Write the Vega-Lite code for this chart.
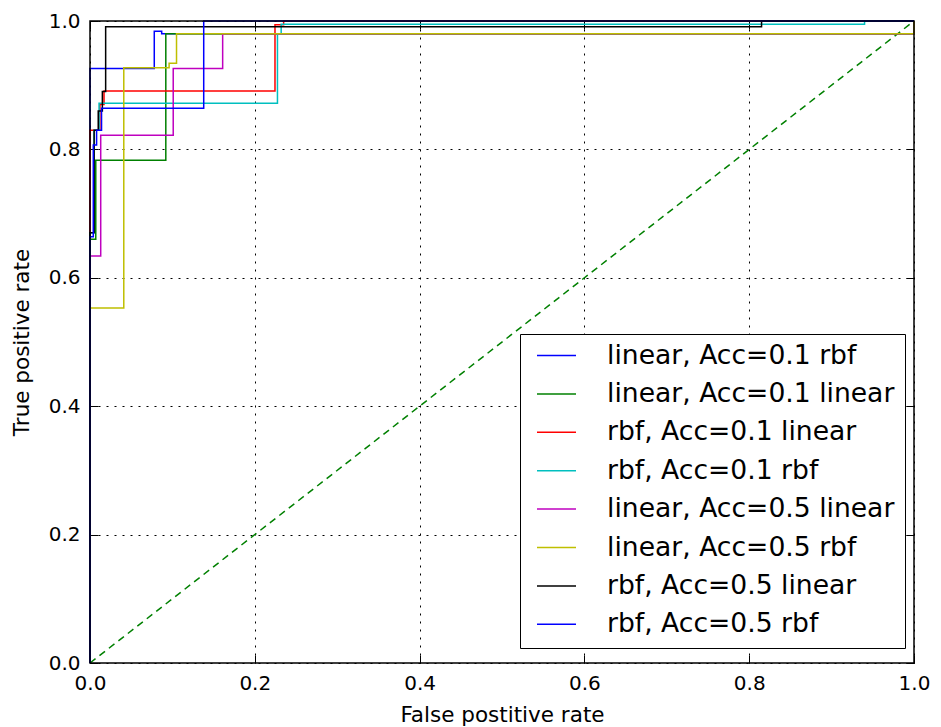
{
  "$schema": "https://vega.github.io/schema/vega-lite/v6.json",
  "width": 824,
  "height": 642,
  "autosize": {"type": "none"},
  "padding": {"left": 90, "top": 21, "right": 27, "bottom": 64},
  "background": "white",
  "config": {
    "view": {"stroke": null},
    "axis": {
      "domain": false,
      "grid": true,
      "gridColor": "black",
      "gridDash": [2, 6],
      "gridWidth": 1,
      "gridOpacity": 1,
      "tickColor": "black",
      "tickSize": -8,
      "tickWidth": 1,
      "labelFont": "DejaVu Sans",
      "labelFontSize": 20,
      "labelColor": "black",
      "labelFlush": false,
      "labelOverlap": false,
      "labelPadding": 18,
      "titleFont": "DejaVu Sans",
      "titleFontSize": 21.5,
      "titleFontWeight": "normal",
      "titleColor": "black"
    }
  },
  "datasets": {
    "diag": [{"fpr": 0, "tpr": 0}, {"fpr": 1, "tpr": 1}],
    "frame": [{"x0": 0, "x1": 1, "y0": 0, "y1": 1}],
    "roc": [
      {"s": "linear, Acc=0.1 rbf", "i": 0, "fpr": 0, "tpr": 0},
      {"s": "linear, Acc=0.1 rbf", "i": 1, "fpr": 0, "tpr": 0.926},
      {"s": "linear, Acc=0.1 rbf", "i": 2, "fpr": 0.078, "tpr": 0.926},
      {"s": "linear, Acc=0.1 rbf", "i": 3, "fpr": 0.078, "tpr": 0.984},
      {"s": "linear, Acc=0.1 rbf", "i": 4, "fpr": 0.087, "tpr": 0.984},
      {"s": "linear, Acc=0.1 rbf", "i": 5, "fpr": 0.087, "tpr": 0.98},
      {"s": "linear, Acc=0.1 rbf", "i": 6, "fpr": 1, "tpr": 0.98},
      {"s": "linear, Acc=0.1 rbf", "i": 7, "fpr": 1, "tpr": 1},

      {"s": "linear, Acc=0.1 linear", "i": 0, "fpr": 0, "tpr": 0},
      {"s": "linear, Acc=0.1 linear", "i": 1, "fpr": 0, "tpr": 0.66},
      {"s": "linear, Acc=0.1 linear", "i": 2, "fpr": 0.007, "tpr": 0.66},
      {"s": "linear, Acc=0.1 linear", "i": 3, "fpr": 0.007, "tpr": 0.783},
      {"s": "linear, Acc=0.1 linear", "i": 4, "fpr": 0.092, "tpr": 0.783},
      {"s": "linear, Acc=0.1 linear", "i": 5, "fpr": 0.092, "tpr": 0.98},
      {"s": "linear, Acc=0.1 linear", "i": 6, "fpr": 1, "tpr": 0.98},
      {"s": "linear, Acc=0.1 linear", "i": 7, "fpr": 1, "tpr": 1},

      {"s": "rbf, Acc=0.1 linear", "i": 0, "fpr": 0, "tpr": 0},
      {"s": "rbf, Acc=0.1 linear", "i": 1, "fpr": 0, "tpr": 0.83},
      {"s": "rbf, Acc=0.1 linear", "i": 2, "fpr": 0.012, "tpr": 0.83},
      {"s": "rbf, Acc=0.1 linear", "i": 3, "fpr": 0.012, "tpr": 0.87},
      {"s": "rbf, Acc=0.1 linear", "i": 4, "fpr": 0.017, "tpr": 0.87},
      {"s": "rbf, Acc=0.1 linear", "i": 5, "fpr": 0.017, "tpr": 0.891},
      {"s": "rbf, Acc=0.1 linear", "i": 6, "fpr": 0.2245, "tpr": 0.891},
      {"s": "rbf, Acc=0.1 linear", "i": 7, "fpr": 0.2245, "tpr": 0.994},
      {"s": "rbf, Acc=0.1 linear", "i": 8, "fpr": 0.235, "tpr": 0.994},
      {"s": "rbf, Acc=0.1 linear", "i": 9, "fpr": 0.235, "tpr": 1},
      {"s": "rbf, Acc=0.1 linear", "i": 10, "fpr": 1, "tpr": 1},

      {"s": "rbf, Acc=0.1 rbf", "i": 0, "fpr": 0, "tpr": 0},
      {"s": "rbf, Acc=0.1 rbf", "i": 1, "fpr": 0, "tpr": 0.67},
      {"s": "rbf, Acc=0.1 rbf", "i": 2, "fpr": 0.005, "tpr": 0.67},
      {"s": "rbf, Acc=0.1 rbf", "i": 3, "fpr": 0.005, "tpr": 0.83},
      {"s": "rbf, Acc=0.1 rbf", "i": 4, "fpr": 0.011, "tpr": 0.83},
      {"s": "rbf, Acc=0.1 rbf", "i": 5, "fpr": 0.011, "tpr": 0.872},
      {"s": "rbf, Acc=0.1 rbf", "i": 6, "fpr": 0.2275, "tpr": 0.872},
      {"s": "rbf, Acc=0.1 rbf", "i": 7, "fpr": 0.2275, "tpr": 0.98},
      {"s": "rbf, Acc=0.1 rbf", "i": 8, "fpr": 0.232, "tpr": 0.98},
      {"s": "rbf, Acc=0.1 rbf", "i": 9, "fpr": 0.232, "tpr": 0.995},
      {"s": "rbf, Acc=0.1 rbf", "i": 10, "fpr": 0.94, "tpr": 0.995},
      {"s": "rbf, Acc=0.1 rbf", "i": 11, "fpr": 0.94, "tpr": 1},
      {"s": "rbf, Acc=0.1 rbf", "i": 12, "fpr": 1, "tpr": 1},

      {"s": "linear, Acc=0.5 linear", "i": 0, "fpr": 0, "tpr": 0},
      {"s": "linear, Acc=0.5 linear", "i": 1, "fpr": 0, "tpr": 0.634},
      {"s": "linear, Acc=0.5 linear", "i": 2, "fpr": 0.013, "tpr": 0.634},
      {"s": "linear, Acc=0.5 linear", "i": 3, "fpr": 0.013, "tpr": 0.822},
      {"s": "linear, Acc=0.5 linear", "i": 4, "fpr": 0.101, "tpr": 0.822},
      {"s": "linear, Acc=0.5 linear", "i": 5, "fpr": 0.101, "tpr": 0.926},
      {"s": "linear, Acc=0.5 linear", "i": 6, "fpr": 0.161, "tpr": 0.926},
      {"s": "linear, Acc=0.5 linear", "i": 7, "fpr": 0.161, "tpr": 0.98},
      {"s": "linear, Acc=0.5 linear", "i": 8, "fpr": 1, "tpr": 0.98},
      {"s": "linear, Acc=0.5 linear", "i": 9, "fpr": 1, "tpr": 1},

      {"s": "linear, Acc=0.5 rbf", "i": 0, "fpr": 0, "tpr": 0},
      {"s": "linear, Acc=0.5 rbf", "i": 1, "fpr": 0, "tpr": 0.553},
      {"s": "linear, Acc=0.5 rbf", "i": 2, "fpr": 0.041, "tpr": 0.553},
      {"s": "linear, Acc=0.5 rbf", "i": 3, "fpr": 0.041, "tpr": 0.927},
      {"s": "linear, Acc=0.5 rbf", "i": 4, "fpr": 0.096, "tpr": 0.927},
      {"s": "linear, Acc=0.5 rbf", "i": 5, "fpr": 0.096, "tpr": 0.934},
      {"s": "linear, Acc=0.5 rbf", "i": 6, "fpr": 0.105, "tpr": 0.934},
      {"s": "linear, Acc=0.5 rbf", "i": 7, "fpr": 0.105, "tpr": 0.98},
      {"s": "linear, Acc=0.5 rbf", "i": 8, "fpr": 1, "tpr": 0.98},
      {"s": "linear, Acc=0.5 rbf", "i": 9, "fpr": 1, "tpr": 1},

      {"s": "rbf, Acc=0.5 linear", "i": 0, "fpr": 0, "tpr": 0},
      {"s": "rbf, Acc=0.5 linear", "i": 1, "fpr": 0, "tpr": 0.67},
      {"s": "rbf, Acc=0.5 linear", "i": 2, "fpr": 0.005, "tpr": 0.67},
      {"s": "rbf, Acc=0.5 linear", "i": 3, "fpr": 0.005, "tpr": 0.83},
      {"s": "rbf, Acc=0.5 linear", "i": 4, "fpr": 0.01, "tpr": 0.83},
      {"s": "rbf, Acc=0.5 linear", "i": 5, "fpr": 0.01, "tpr": 0.86},
      {"s": "rbf, Acc=0.5 linear", "i": 6, "fpr": 0.015, "tpr": 0.86},
      {"s": "rbf, Acc=0.5 linear", "i": 7, "fpr": 0.015, "tpr": 0.89},
      {"s": "rbf, Acc=0.5 linear", "i": 8, "fpr": 0.019, "tpr": 0.89},
      {"s": "rbf, Acc=0.5 linear", "i": 9, "fpr": 0.019, "tpr": 0.991},
      {"s": "rbf, Acc=0.5 linear", "i": 10, "fpr": 0.815, "tpr": 0.991},
      {"s": "rbf, Acc=0.5 linear", "i": 11, "fpr": 0.815, "tpr": 1},
      {"s": "rbf, Acc=0.5 linear", "i": 12, "fpr": 1, "tpr": 1},

      {"s": "rbf, Acc=0.5 rbf", "i": 0, "fpr": 0, "tpr": 0},
      {"s": "rbf, Acc=0.5 rbf", "i": 1, "fpr": 0, "tpr": 0.664},
      {"s": "rbf, Acc=0.5 rbf", "i": 2, "fpr": 0.004, "tpr": 0.664},
      {"s": "rbf, Acc=0.5 rbf", "i": 3, "fpr": 0.004, "tpr": 0.807},
      {"s": "rbf, Acc=0.5 rbf", "i": 4, "fpr": 0.008, "tpr": 0.807},
      {"s": "rbf, Acc=0.5 rbf", "i": 5, "fpr": 0.008, "tpr": 0.83},
      {"s": "rbf, Acc=0.5 rbf", "i": 6, "fpr": 0.014, "tpr": 0.83},
      {"s": "rbf, Acc=0.5 rbf", "i": 7, "fpr": 0.014, "tpr": 0.864},
      {"s": "rbf, Acc=0.5 rbf", "i": 8, "fpr": 0.138, "tpr": 0.864},
      {"s": "rbf, Acc=0.5 rbf", "i": 9, "fpr": 0.138, "tpr": 1},
      {"s": "rbf, Acc=0.5 rbf", "i": 10, "fpr": 1, "tpr": 1}
    ]
  },
  "resolve": {"axis": {"x": "independent", "y": "independent"}},
  "layer": [
    {
      "data": {"name": "diag"},
      "mark": {"type": "line", "color": "#008000", "strokeWidth": 1.5, "strokeDash": [7, 5]},
      "encoding": {
        "x": {"field": "fpr", "type": "quantitative", "scale": {"domain": [0, 1], "nice": false},
              "axis": {"values": [0, 0.2, 0.4, 0.6, 0.8, 1.0], "format": ".1f", "title": "False postitive rate", "titlePadding": 11}},
        "y": {"field": "tpr", "type": "quantitative", "scale": {"domain": [0, 1], "nice": false},
              "axis": {"values": [0, 0.2, 0.4, 0.6, 0.8, 1.0], "format": ".1f", "title": "True positive rate", "titlePadding": 15}}
      }
    },
    {
      "data": {"name": "roc"},
      "mark": {"type": "line", "strokeWidth": 1.5},
      "encoding": {
        "x": {"field": "fpr", "type": "quantitative", "axis": null},
        "y": {"field": "tpr", "type": "quantitative", "axis": null},
        "order": {"field": "i", "type": "quantitative"},
        "color": {
          "field": "s", "type": "nominal",
          "scale": {
            "domain": ["linear, Acc=0.1 rbf", "linear, Acc=0.1 linear", "rbf, Acc=0.1 linear", "rbf, Acc=0.1 rbf", "linear, Acc=0.5 linear", "linear, Acc=0.5 rbf", "rbf, Acc=0.5 linear", "rbf, Acc=0.5 rbf"],
            "range": ["#0000ff", "#008000", "#ff0000", "#00bfbf", "#bf00bf", "#bfbf00", "#000000", "#0000ff"]
          },
          "legend": {
            "orient": "none",
            "legendX": 430,
            "legendY": 313,
            "title": null,
            "symbolType": "stroke",
            "symbolSize": 1521,
            "symbolStrokeWidth": 1.5,
            "symbolOffset": 6,
            "clipHeight": 23,
            "labelFont": "DejaVu Sans",
            "labelFontSize": 26.6,
            "labelColor": "black",
            "labelOffset": 30,
            "labelLimit": 500,
            "padding": 10,
            "rowPadding": 10.4,
            "strokeColor": "black",
            "fillColor": "white"
          }
        }
      }
    },
    {
      "data": {"name": "frame"},
      "mark": {"type": "rect", "fill": null, "stroke": "black", "strokeWidth": 1.5},
      "encoding": {
        "x": {"field": "x0", "type": "quantitative", "axis": {"orient": "top", "values": [0, 0.2, 0.4, 0.6, 0.8, 1.0], "labels": false, "title": null, "grid": false}},
        "x2": {"field": "x1"},
        "y": {"field": "y0", "type": "quantitative", "axis": {"orient": "right", "values": [0, 0.2, 0.4, 0.6, 0.8, 1.0], "labels": false, "title": null, "grid": false}},
        "y2": {"field": "y1"}
      }
    }
  ]
}
